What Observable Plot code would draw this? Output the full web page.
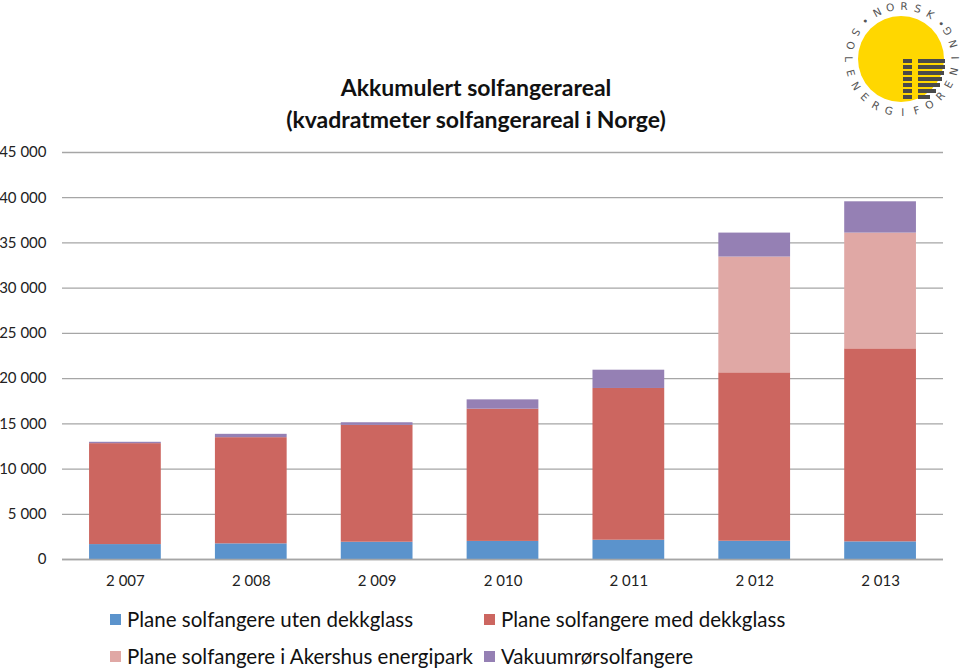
<!DOCTYPE html>
<html>
<head>
<meta charset="utf-8">
<script src="https://cdn.jsdelivr.net/npm/d3@7"></script>
<script src="https://cdn.jsdelivr.net/npm/@observablehq/plot@0.6"></script>
<style>
  body { margin: 0; background: #fff; }
  #wrap { position: relative; width: 960px; height: 671px; overflow: hidden; font-family: Lato, "Noto Sans", sans-serif; background:#fff; }
  #title { position: absolute; left: 126px; width: 700px; top: 71px; text-align: center; font-weight: bold; font-size: 23px; line-height: 32px; color: #111; }
  #chart { position: absolute; left: 0; top: 140px; }
  .lg { position: absolute; display: flex; align-items: center; font-size: 20.5px; color: #111; white-space: nowrap; }
  .sw { width: 11px; height: 11px; margin-right: 6px; }
  #logo { position: absolute; left: 830px; top: 0; }
</style>
</head>
<body>
<div id="wrap">
  <div id="title">Akkumulert solfangerareal<br>(kvadratmeter solfangerareal i Norge)</div>
  <div id="chart"></div>
  <div id="legend"></div>
  <svg id="logo" width="130" height="120" viewBox="830 0 130 120">
    <circle cx="901" cy="59" r="43" fill="#FFD700"/>
    <g fill="#4a4a4a">
      <rect x="903" y="59" width="9" height="4"/>
      <rect x="903" y="65" width="9" height="4"/>
      <rect x="903" y="71" width="9" height="4"/>
      <rect x="903" y="77" width="9" height="4"/>
      <rect x="903" y="83" width="9" height="4"/>
      <rect x="903" y="89" width="9" height="4"/>
      <rect x="903" y="95" width="9" height="4"/>
      <rect x="918" y="59" width="27" height="4"/>
      <rect x="918" y="65" width="27" height="4"/>
      <rect x="918" y="71" width="26" height="4"/>
      <rect x="918" y="77" width="24" height="4"/>
      <rect x="918" y="83" width="22" height="4"/>
      <rect x="918" y="89" width="18" height="4"/>
      <rect x="918" y="95" width="12" height="4"/>
    </g>
    <g id="ring" font-family="DejaVu Sans, sans-serif" font-size="10.5" fill="#555" text-anchor="middle" dominant-baseline="central"></g>
  </svg>
</div>
<script>
// ---- data ----
const years = [2007, 2008, 2009, 2010, 2011, 2012, 2013];
const seriesNames = [
  "Plane solfangere uten dekkglass",
  "Plane solfangere med dekkglass",
  "Plane solfangere i Akershus energipark",
  "Vakuumrørsolfangere"
];
const seriesColors = ["#5B93CC", "#CC6660", "#E0A8A5", "#9580B4"];
const utenDekkglass   = [1650, 1730, 1910, 2000, 2130, 2020, 1950];
const medDekkglass    = [11160, 11740, 12920, 14620, 16780, 18620, 21340];
const akershusPark    = [0, 0, 0, 0, 0, 12800, 12800];
const vakuumror       = [150, 370, 290, 1030, 2020, 2650, 3460];
const yTicks = [0, 5000, 10000, 15000, 20000, 25000, 30000, 35000, 40000, 45000];

const seriesValues = [utenDekkglass, medDekkglass, akershusPark, vakuumror];
const data = [];
years.forEach((yr, i) => {
  seriesNames.forEach((s, j) => data.push({year: yr, series: s, value: seriesValues[j][i]}));
});

const fmt = d => d3.format(",")(d).replace(/,/g, " ");

const chart = Plot.plot({
  width: 960,
  height: 455,
  marginTop: 12,
  marginBottom: 36,
  marginLeft: 62,
  marginRight: 17,
  style: {fontFamily: "Lato, 'Noto Sans', sans-serif", fontSize: "15px", color: "#222", background: "transparent"},
  x: {domain: years, paddingInner: 0.43, paddingOuter: 0.215, round: false, label: null},
  y: {domain: [0, 45000], label: null},
  color: {domain: seriesNames, range: seriesColors},
  marks: [
    Plot.ruleY(yTicks, {stroke: "#a6a6a6", strokeWidth: 1.3}),
    Plot.barY(data, {x: "year", y: "value", fill: "series"}),
    Plot.ruleY([0], {stroke: "#a6a6a6", strokeWidth: 1.5}),
    Plot.axisY({ticks: yTicks, tickSize: 0, tickPadding: 16, tickFormat: fmt, fontSize: 15}),
    Plot.axisX({tickSize: 0, tickPadding: 16, tickFormat: fmt, fontSize: 15})
  ]
});
document.getElementById("chart").appendChild(chart);

// legend (two columns, two rows)
const legend = document.getElementById("legend");
const legendPos = [[110, 607], [484, 607], [110, 644], [484, 644]];
seriesNames.forEach((s, i) => {
  const el = document.createElement("div");
  el.className = "lg";
  el.style.left = legendPos[i][0] + "px";
  el.style.top = legendPos[i][1] + "px";
  el.innerHTML = `<span class="sw" style="background:${seriesColors[i]}"></span><span>${s}</span>`;
  legend.appendChild(el);
});

// logo lettering around the sun
const ring = document.getElementById("ring");
const cx = 902, cy = 59, R = 53;
function putLetter(ch, deg, outward) {
  const a = deg * Math.PI / 180;
  const x = cx + R * Math.cos(a), y = cy + R * Math.sin(a);
  const rot = outward ? deg + 90 : deg - 90;
  const t = document.createElementNS("http://www.w3.org/2000/svg", "text");
  t.setAttribute("transform", `translate(${x.toFixed(1)},${y.toFixed(1)}) rotate(${rot.toFixed(1)})`);
  t.textContent = ch;
  ring.appendChild(t);
}
const topWord = "NORSK";
[...topWord].forEach((c, i) => putLetter(c, -118 + i * 15.1, true));
putLetter("•", -134, true);
putLetter("•", -42, true);
const botWord = "SOLENERGIFORENING";
[...botWord].forEach((c, i) => putLetter(c, 210 - i * 15.1, false));
</script>
</body>
</html>
